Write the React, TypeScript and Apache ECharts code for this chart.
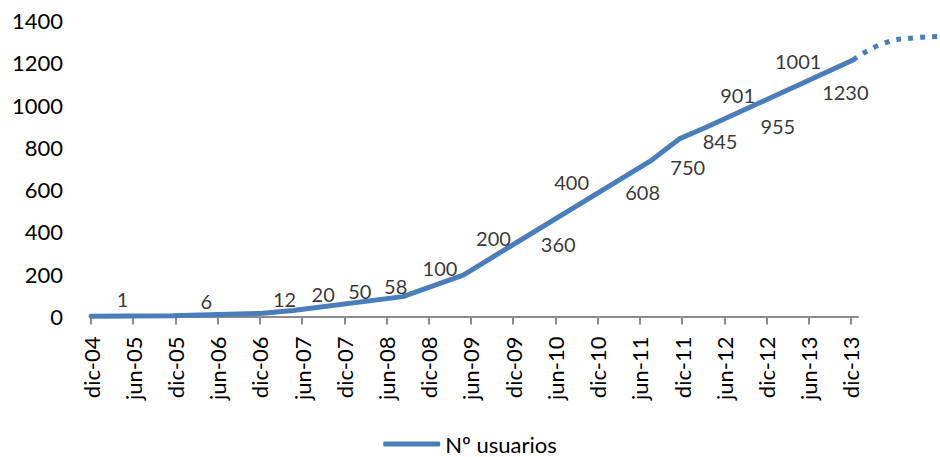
import React, { useEffect, useRef } from "react";
import * as echarts from "echarts";

// x positions are months since dic-04
const xTickLabels = [
  "dic-04", "jun-05", "dic-05", "jun-06", "dic-06", "jun-07", "dic-07", "jun-08", "dic-08",
  "jun-09", "dic-09", "jun-10", "dic-10", "jun-11", "dic-11", "jun-12", "dic-12", "jun-13", "dic-13",
];
const xTickMonths = xTickLabels.map((_, i) => i * 6);

const seriesName = "Nº usuarios";
const lineMonths = [0, 11.6, 24.4, 28.7, 44.3, 52.9, 79.7, 83.6, 87.5, 108.3];
const lineValues = [1, 3, 15, 28, 94, 196, 740, 840, 896, 1213];

const trendMonths = [108.3, 112.5, 117, 120.6];
const trendValues = [1213, 1290, 1318, 1324];

const labelTexts = ["1", "6", "12", "20", "50", "58", "100", "200", "360", "400", "608", "750", "845", "901", "955", "1001", "1230"];
const labelMonths = [4.5, 16.4, 27.5, 33.0, 38.2, 43.3, 49.6, 57.2, 66.4, 68.3, 78.4, 84.8, 89.4, 91.9, 97.6, 100.5, 107.2];
const labelValues = [83, 73, 83, 106, 122, 144, 228, 370, 343, 635, 590, 709, 832, 1048, 901, 1209, 1064];

const yMin = 0;
const yMax = 1400;
const yInterval = 200;
const xMax = 109;

const FONT = "Lato, 'Noto Sans', sans-serif";
const BLUE = "#4A7EBB";

export default function App() {
  const ref = useRef<HTMLDivElement>(null);
  useEffect(() => {
    if (!ref.current) return;
    const chart = echarts.init(ref.current, null, { renderer: "svg" });
    const left = 91;
    const right = 82;
    const width = 940;
    const plotW = width - left - right;
    const extW = width - left;
    const xMaxExt = (xMax * extW) / plotW;
    chart.setOption({
      animation: false,
      backgroundColor: "#ffffff",
      textStyle: { fontFamily: FONT },
      grid: [
        { left, right, top: 20.5, bottom: 140.5, containLabel: false },
        { left, right: 0, top: 20.5, bottom: 140.5, containLabel: false },
      ],
      legend: {
        data: [seriesName],
        left: "center",
        top: 433,
        padding: 0,
        itemWidth: 57,
        itemHeight: 5,
        icon: "roundRect",
        textStyle: { fontFamily: FONT, fontSize: 22, color: "#000" },
      },
      xAxis: [
        {
          type: "value",
          gridIndex: 0,
          min: 0,
          max: xMax,
          axisLine: { show: true, lineStyle: { color: "#8c8c8c", width: 2 } },
          axisTick: {
            show: true,
            length: 8,
            customValues: xTickMonths,
            lineStyle: { color: "#8c8c8c", width: 2 },
          },
          splitLine: { show: false },
          axisLabel: {
            customValues: xTickMonths,
            rotate: 90,
            margin: 20,
            fontSize: 22,
            fontFamily: FONT,
            color: "#000",
            padding: [8, 0, 0, 0],
            formatter: (v: number) => xTickLabels[Math.round(v / 6)] ?? "",
          },
        },
        {
          type: "value",
          gridIndex: 1,
          min: 0,
          max: xMaxExt,
          show: false,
        },
      ],
      yAxis: [
        {
          type: "value",
          gridIndex: 0,
          min: yMin,
          max: yMax,
          interval: yInterval,
          axisLine: { show: false },
          axisTick: { show: false },
          splitLine: { show: false },
          axisLabel: {
            margin: 28,
            fontSize: 22,
            fontFamily: FONT,
            color: "#000",
            padding: [8, 0, 0, 0],
            formatter: (v: number) => String(v),
          },
        },
        {
          type: "value",
          gridIndex: 1,
          min: yMin,
          max: yMax,
          show: false,
        },
      ],
      series: [
        {
          name: seriesName,
          type: "line",
          data: lineMonths.map((m, i) => [m, lineValues[i]]),
          showSymbol: false,
          symbol: "none",
          clip: false,
          lineStyle: { color: BLUE, width: 5, cap: "round", join: "round" },
          itemStyle: { color: BLUE },
          emphasis: { disabled: true },
          z: 3,
        },
        {
          name: "trend",
          type: "line",
          xAxisIndex: 1,
          yAxisIndex: 1,
          data: trendMonths.map((m, i) => [m, trendValues[i]]),
          smooth: true,
          showSymbol: false,
          symbol: "none",
          lineStyle: { color: BLUE, width: 5, type: [5, 7], cap: "butt" },
          itemStyle: { color: BLUE },
          emphasis: { disabled: true },
          z: 3,
        },
        {
          name: "labels",
          type: "scatter",
          data: labelMonths.map((m, i) => [m, labelValues[i], labelTexts[i]]),
          symbolSize: 1,
          itemStyle: { color: "rgba(0,0,0,0)" },
          silent: true,
          clip: false,
          label: {
            show: true,
            position: "inside",
            formatter: (p: any) => p.value[2],
            fontFamily: FONT,
            fontSize: 20,
            color: "#000",
          },
          emphasis: { disabled: true },
          z: 4,
        },
      ],
    });
    return () => chart.dispose();
  }, []);
  return (
    <div
      ref={ref}
      style={{ position: "fixed", left: 0, top: 0, width: 940, height: 457 }}
    />
  );
}
